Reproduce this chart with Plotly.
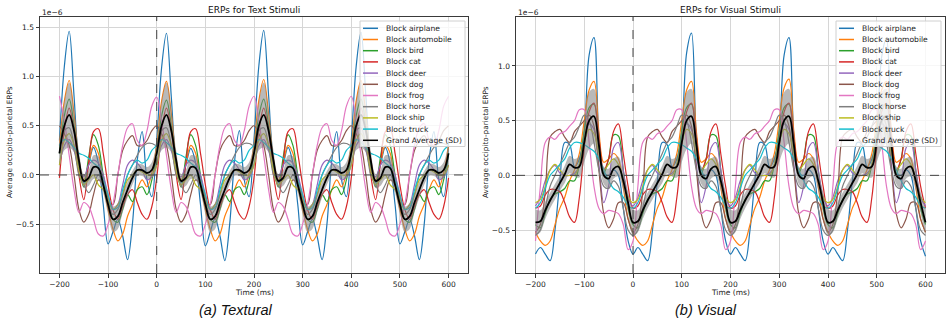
import plotly.graph_objects as go
from plotly.subplots import make_subplots

# time axis (ms)
time_ms = list(range(-200, 601, 10))

block_names = ['Block airplane', 'Block automobile', 'Block bird', 'Block cat', 'Block deer',
               'Block dog', 'Block frog', 'Block horse', 'Block ship', 'Block truck']
ga_name = 'Grand Average (SD)'

# ---- ERPs for Text Stimuli (x1e-6) ----
text_airplane = [0.35, 1.10, 1.46, 0.80, 0.12, -0.08, 0.10, 0.28, 0.12, -0.30, -0.70, -0.58, -0.45, -0.62, -0.86, -0.50, 0.15, 0.44, -0.05, -0.22,
                 0.35, 1.09, 1.44, 0.79, 0.12, -0.08, 0.10, 0.27, 0.12, -0.30, -0.72, -0.58, -0.44, -0.62, -0.87, -0.50, 0.14, 0.45, -0.05, -0.22,
                 0.36, 1.11, 1.47, 0.81, 0.13, -0.08, 0.10, 0.28, 0.12, -0.30, -0.71, -0.58, -0.45, -0.63, -0.86, -0.50, 0.15, 0.44, -0.05, -0.22,
                 0.35, 1.10, 1.45, 0.80, 0.12, -0.08, 0.10, 0.28, 0.12, -0.30, -0.70, -0.58, -0.45, -0.62, -0.86, -0.50, 0.15, 0.44, -0.05, -0.22,
                 0.35]
text_automobile = [0.30, 0.75, 0.96, 0.62, 0.15, -0.05, 0.12, 0.30, 0.22, -0.10, -0.35, -0.55, -0.67, -0.60, -0.42, -0.30, -0.15, -0.05, -0.12, 0.02,
                   0.30, 0.75, 0.95, 0.62, 0.15, -0.05, 0.12, 0.30, 0.22, -0.10, -0.35, -0.55, -0.67, -0.60, -0.42, -0.30, -0.15, -0.05, -0.12, 0.02,
                   0.30, 0.76, 0.97, 0.62, 0.15, -0.05, 0.12, 0.30, 0.22, -0.10, -0.35, -0.55, -0.67, -0.60, -0.42, -0.30, -0.15, -0.05, -0.12, 0.02,
                   0.30, 0.75, 0.96, 0.62, 0.15, -0.05, 0.12, 0.30, 0.22, -0.10, -0.35, -0.55, -0.67, -0.60, -0.42, -0.30, -0.15, -0.05, -0.12, 0.02,
                   0.30]
text_bird = [0.22, 0.60, 0.77, 0.50, 0.10, -0.12, 0.18, 0.41, 0.30, 0.00, -0.25, -0.45, -0.48, -0.35, -0.20, -0.27, -0.15, -0.12, -0.20, -0.05,
             0.22, 0.60, 0.76, 0.50, 0.10, -0.12, 0.18, 0.41, 0.30, 0.00, -0.25, -0.45, -0.48, -0.35, -0.20, -0.27, -0.15, -0.12, -0.20, -0.05,
             0.22, 0.60, 0.77, 0.50, 0.10, -0.12, 0.18, 0.41, 0.30, 0.00, -0.25, -0.45, -0.48, -0.35, -0.20, -0.27, -0.15, -0.12, -0.20, -0.05,
             0.22, 0.60, 0.77, 0.50, 0.10, -0.12, 0.18, 0.41, 0.30, 0.00, -0.25, -0.45, -0.48, -0.35, -0.20, -0.27, -0.15, -0.12, -0.20, -0.05,
             0.22]
text_cat = [-0.03, 0.45, 0.68, 0.45, 0.00, -0.25, 0.12, 0.44, 0.47, 0.22, -0.10, -0.35, -0.45, -0.32, -0.20, -0.15, -0.28, -0.40, -0.45, -0.32,
            -0.03, 0.45, 0.68, 0.45, 0.00, -0.25, 0.12, 0.44, 0.47, 0.22, -0.10, -0.35, -0.45, -0.32, -0.20, -0.15, -0.28, -0.40, -0.45, -0.32,
            -0.03, 0.45, 0.68, 0.45, 0.00, -0.25, 0.12, 0.44, 0.47, 0.22, -0.10, -0.35, -0.45, -0.32, -0.20, -0.15, -0.28, -0.40, -0.45, -0.32,
            -0.03, 0.45, 0.68, 0.45, 0.00, -0.25, 0.12, 0.44, 0.47, 0.22, -0.10, -0.35, -0.45, -0.32, -0.20, -0.15, -0.28, -0.40, -0.45, -0.32,
            -0.03]
text_deer = [0.10, 0.30, 0.36, 0.25, 0.05, -0.02, 0.10, 0.15, 0.12, 0.00, -0.20, -0.35, -0.30, -0.10, 0.10, 0.15, 0.12, 0.05, -0.05, -0.02,
             0.10, 0.30, 0.36, 0.25, 0.05, -0.02, 0.10, 0.15, 0.12, 0.00, -0.20, -0.35, -0.30, -0.10, 0.10, 0.15, 0.12, 0.05, -0.05, -0.02,
             0.10, 0.30, 0.36, 0.25, 0.05, -0.02, 0.10, 0.15, 0.12, 0.00, -0.20, -0.35, -0.30, -0.10, 0.10, 0.15, 0.12, 0.05, -0.05, -0.02,
             0.10, 0.30, 0.36, 0.25, 0.05, -0.02, 0.10, 0.15, 0.12, 0.00, -0.20, -0.35, -0.30, -0.10, 0.10, 0.15, 0.12, 0.05, -0.05, -0.02,
             0.10]
text_dog = [0.50, 0.42, 0.30, 0.00, -0.35, -0.48, -0.40, -0.20, -0.05, -0.10, -0.28, -0.30, 0.00, 0.25, 0.35, 0.40, 0.30, 0.30, 0.35, 0.45,
            0.50, 0.42, 0.30, 0.00, -0.35, -0.48, -0.40, -0.20, -0.05, -0.10, -0.28, -0.30, 0.00, 0.25, 0.35, 0.40, 0.30, 0.30, 0.35, 0.45,
            0.50, 0.42, 0.30, 0.00, -0.35, -0.48, -0.40, -0.20, -0.05, -0.10, -0.28, -0.30, 0.00, 0.25, 0.35, 0.40, 0.30, 0.30, 0.35, 0.45,
            0.50, 0.42, 0.30, 0.00, -0.35, -0.48, -0.40, -0.20, -0.05, -0.10, -0.28, -0.30, 0.00, 0.25, 0.35, 0.40, 0.30, 0.30, 0.35, 0.45,
            0.50]
text_frog = [0.80, 0.55, 0.20, -0.15, -0.38, -0.28, -0.32, -0.45, -0.60, -0.62, -0.50, -0.30, 0.00, 0.30, 0.48, 0.52, 0.35, 0.30, 0.45, 0.70,
             0.79, 0.55, 0.20, -0.15, -0.38, -0.28, -0.32, -0.45, -0.60, -0.62, -0.50, -0.30, 0.00, 0.30, 0.48, 0.52, 0.35, 0.30, 0.45, 0.70,
             0.80, 0.55, 0.20, -0.15, -0.38, -0.28, -0.32, -0.45, -0.60, -0.62, -0.50, -0.30, 0.00, 0.30, 0.48, 0.52, 0.35, 0.30, 0.45, 0.70,
             0.80, 0.55, 0.20, -0.15, -0.38, -0.28, -0.32, -0.45, -0.60, -0.62, -0.50, -0.30, 0.00, 0.30, 0.48, 0.52, 0.35, 0.30, 0.45, 0.70,
             0.80]
text_horse = [0.30, 0.45, 0.48, 0.30, 0.00, -0.10, -0.18, -0.10, 0.00, -0.10, -0.30, -0.40, -0.35, -0.20, 0.00, 0.10, 0.20, 0.28, 0.32, 0.32,
              0.30, 0.45, 0.48, 0.30, 0.00, -0.10, -0.18, -0.10, 0.00, -0.10, -0.30, -0.40, -0.35, -0.20, 0.00, 0.10, 0.20, 0.28, 0.32, 0.32,
              0.30, 0.45, 0.48, 0.30, 0.00, -0.10, -0.18, -0.10, 0.00, -0.10, -0.30, -0.40, -0.35, -0.20, 0.00, 0.10, 0.20, 0.28, 0.32, 0.32,
              0.30, 0.45, 0.48, 0.30, 0.00, -0.10, -0.18, -0.10, 0.00, -0.10, -0.30, -0.40, -0.35, -0.20, 0.00, 0.10, 0.20, 0.28, 0.32, 0.32,
              0.30]
text_ship = [0.10, 0.35, 0.42, 0.30, 0.05, -0.10, -0.05, 0.00, -0.10, -0.15, -0.25, -0.35, -0.30, -0.20, -0.05, 0.00, 0.05, 0.03, 0.00, 0.00,
             0.10, 0.35, 0.42, 0.30, 0.05, -0.10, -0.05, 0.00, -0.10, -0.15, -0.25, -0.35, -0.30, -0.20, -0.05, 0.00, 0.05, 0.03, 0.00, 0.00,
             0.10, 0.35, 0.42, 0.30, 0.05, -0.10, -0.05, 0.00, -0.10, -0.15, -0.25, -0.35, -0.30, -0.20, -0.05, 0.00, 0.05, 0.03, 0.00, 0.00,
             0.10, 0.35, 0.42, 0.30, 0.05, -0.10, -0.05, 0.00, -0.10, -0.15, -0.25, -0.35, -0.30, -0.20, -0.05, 0.00, 0.05, 0.03, 0.00, 0.00,
             0.10]
text_truck = [0.30, 0.36, 0.33, 0.28, 0.22, 0.20, 0.17, 0.12, 0.08, -0.05, -0.20, -0.35, -0.33, -0.15, 0.00, 0.10, 0.15, 0.12, 0.15, 0.25,
              0.30, 0.36, 0.33, 0.28, 0.22, 0.20, 0.17, 0.12, 0.08, -0.05, -0.20, -0.35, -0.33, -0.15, 0.00, 0.10, 0.15, 0.12, 0.15, 0.25,
              0.30, 0.36, 0.33, 0.28, 0.22, 0.20, 0.17, 0.12, 0.08, -0.05, -0.20, -0.35, -0.33, -0.15, 0.00, 0.10, 0.15, 0.12, 0.15, 0.25,
              0.30, 0.36, 0.33, 0.28, 0.22, 0.20, 0.17, 0.12, 0.08, -0.05, -0.20, -0.35, -0.33, -0.15, 0.00, 0.10, 0.15, 0.12, 0.15, 0.25,
              0.30]
text_ga = [0.22, 0.50, 0.61, 0.45, 0.15, -0.06, -0.03, 0.08, 0.07, -0.10, -0.30, -0.45, -0.42, -0.28, -0.15, -0.03, 0.05, 0.05, 0.02, 0.05,
           0.22, 0.50, 0.61, 0.45, 0.15, -0.06, -0.03, 0.08, 0.07, -0.10, -0.30, -0.45, -0.42, -0.28, -0.15, -0.03, 0.05, 0.05, 0.02, 0.05,
           0.22, 0.50, 0.61, 0.45, 0.15, -0.06, -0.03, 0.08, 0.07, -0.10, -0.30, -0.45, -0.42, -0.28, -0.15, -0.03, 0.05, 0.05, 0.02, 0.05,
           0.22, 0.50, 0.61, 0.45, 0.15, -0.06, -0.03, 0.08, 0.07, -0.10, -0.30, -0.45, -0.42, -0.28, -0.15, -0.03, 0.05, 0.05, 0.02, 0.05,
           0.22]
text_sd = [0.12, 0.25, 0.33, 0.22, 0.10, 0.07, 0.08, 0.12, 0.12, 0.08, 0.10, 0.13, 0.13, 0.10, 0.08, 0.07, 0.06, 0.06, 0.06, 0.08,
           0.12, 0.25, 0.33, 0.22, 0.10, 0.07, 0.08, 0.12, 0.12, 0.08, 0.10, 0.13, 0.13, 0.10, 0.08, 0.07, 0.06, 0.06, 0.06, 0.08,
           0.12, 0.25, 0.33, 0.22, 0.10, 0.07, 0.08, 0.12, 0.12, 0.08, 0.10, 0.13, 0.13, 0.10, 0.08, 0.07, 0.06, 0.06, 0.06, 0.08,
           0.12, 0.25, 0.33, 0.22, 0.10, 0.07, 0.08, 0.12, 0.12, 0.08, 0.10, 0.13, 0.13, 0.10, 0.08, 0.07, 0.06, 0.06, 0.06, 0.08,
           0.12]

# ---- ERPs for Visual Stimuli (x1e-6) ----
vis_airplane = [-0.72, -0.66, -0.72, -0.78, -0.50, -0.05, 0.30, 0.28, 0.08, 0.15, 0.40, 1.10, 1.26, 0.35, 0.02, 0.00, 0.05, 0.00, -0.30, -0.60,
                -0.72, -0.66, -0.72, -0.78, -0.50, -0.05, 0.30, 0.28, 0.08, 0.15, 0.40, 1.12, 1.30, 0.35, 0.02, 0.00, 0.05, 0.00, -0.30, -0.60,
                -0.72, -0.66, -0.72, -0.78, -0.50, -0.05, 0.30, 0.28, 0.08, 0.15, 0.40, 1.10, 1.26, 0.35, 0.02, 0.00, 0.05, 0.00, -0.30, -0.60,
                -0.72, -0.66, -0.72, -0.78, -0.50, -0.05, 0.30, 0.28, 0.08, 0.15, 0.40, 1.08, 1.25, 0.35, 0.02, 0.00, 0.05, 0.00, -0.30, -0.60,
                -0.74]
vis_automobile = [-0.52, -0.60, -0.64, -0.60, -0.45, -0.30, -0.20, -0.05, 0.05, 0.20, 0.50, 0.78, 0.86, 0.40, 0.12, 0.15, 0.20, 0.15, -0.10, -0.40,
                  -0.52, -0.60, -0.64, -0.60, -0.45, -0.30, -0.20, -0.05, 0.05, 0.20, 0.50, 0.78, 0.86, 0.40, 0.12, 0.15, 0.20, 0.15, -0.10, -0.40,
                  -0.52, -0.60, -0.64, -0.60, -0.45, -0.30, -0.20, -0.05, 0.05, 0.20, 0.50, 0.80, 0.88, 0.40, 0.12, 0.15, 0.20, 0.15, -0.10, -0.40,
                  -0.52, -0.60, -0.64, -0.60, -0.45, -0.30, -0.20, -0.05, 0.05, 0.20, 0.50, 0.78, 0.86, 0.40, 0.12, 0.15, 0.20, 0.15, -0.10, -0.40,
                  -0.52]
vis_bird = [-0.45, -0.48, -0.35, -0.22, -0.17, -0.15, -0.12, -0.05, -0.05, 0.10, 0.40, 0.62, 0.65, 0.25, 0.02, 0.15, 0.37, 0.36, 0.05, -0.30,
            -0.45, -0.48, -0.35, -0.22, -0.17, -0.15, -0.12, -0.05, -0.05, 0.10, 0.40, 0.62, 0.65, 0.25, 0.02, 0.15, 0.37, 0.36, 0.05, -0.30,
            -0.45, -0.48, -0.35, -0.22, -0.17, -0.15, -0.12, -0.05, -0.05, 0.10, 0.40, 0.62, 0.65, 0.25, 0.02, 0.15, 0.37, 0.36, 0.05, -0.30,
            -0.45, -0.48, -0.35, -0.22, -0.17, -0.15, -0.12, -0.05, -0.05, 0.10, 0.40, 0.62, 0.65, 0.25, 0.02, 0.15, 0.37, 0.36, 0.05, -0.30,
            -0.45]
vis_cat = [-0.30, -0.28, -0.18, -0.13, -0.13, -0.15, -0.25, -0.38, -0.43, -0.20, 0.25, 0.58, 0.66, 0.35, 0.05, 0.15, 0.40, 0.47, 0.20, -0.10,
           -0.30, -0.28, -0.18, -0.13, -0.13, -0.15, -0.25, -0.38, -0.43, -0.20, 0.25, 0.58, 0.66, 0.35, 0.05, 0.15, 0.40, 0.47, 0.20, -0.10,
           -0.30, -0.28, -0.18, -0.13, -0.13, -0.15, -0.25, -0.38, -0.43, -0.20, 0.25, 0.58, 0.66, 0.35, 0.05, 0.15, 0.40, 0.47, 0.20, -0.10,
           -0.30, -0.28, -0.18, -0.13, -0.13, -0.15, -0.25, -0.38, -0.43, -0.20, 0.25, 0.58, 0.66, 0.35, 0.05, 0.15, 0.40, 0.47, 0.20, -0.10,
           -0.30]
vis_deer = [-0.28, -0.20, -0.05, 0.05, 0.09, 0.02, 0.00, 0.00, 0.02, 0.08, 0.30, 0.47, 0.42, 0.10, -0.25, -0.10, 0.25, 0.30, 0.05, -0.20,
            -0.28, -0.20, -0.05, 0.05, 0.09, 0.02, 0.00, 0.00, 0.02, 0.08, 0.30, 0.47, 0.42, 0.10, -0.25, -0.10, 0.25, 0.30, 0.05, -0.20,
            -0.28, -0.20, -0.05, 0.05, 0.09, 0.02, 0.00, 0.00, 0.02, 0.08, 0.30, 0.47, 0.42, 0.10, -0.25, -0.10, 0.25, 0.30, 0.05, -0.20,
            -0.28, -0.20, -0.05, 0.05, 0.09, 0.02, 0.00, 0.00, 0.02, 0.08, 0.30, 0.47, 0.42, 0.10, -0.25, -0.10, 0.25, 0.30, 0.05, -0.20,
            -0.28]
vis_dog = [-0.52, -0.45, -0.15, 0.35, 0.40, 0.42, 0.35, 0.30, 0.40, 0.45, 0.50, 0.55, 0.45, 0.05, -0.35, -0.48, -0.40, -0.25, -0.25, -0.40,
           -0.52, -0.45, -0.15, 0.35, 0.40, 0.42, 0.35, 0.30, 0.40, 0.45, 0.50, 0.55, 0.45, 0.05, -0.35, -0.48, -0.40, -0.25, -0.25, -0.40,
           -0.52, -0.45, -0.15, 0.35, 0.40, 0.42, 0.35, 0.30, 0.40, 0.45, 0.50, 0.55, 0.45, 0.05, -0.35, -0.48, -0.40, -0.25, -0.25, -0.40,
           -0.52, -0.45, -0.15, 0.35, 0.40, 0.42, 0.35, 0.30, 0.40, 0.45, 0.50, 0.55, 0.45, 0.05, -0.35, -0.48, -0.40, -0.25, -0.25, -0.40,
           -0.52]
vis_frog = [-0.60, -0.10, 0.30, 0.35, 0.33, 0.38, 0.40, 0.45, 0.50, 0.60, 0.60, 0.30, -0.10, -0.30, -0.35, -0.32, -0.33, -0.35, -0.45, -0.68,
            -0.60, -0.10, 0.30, 0.35, 0.33, 0.38, 0.40, 0.45, 0.50, 0.60, 0.60, 0.30, -0.10, -0.30, -0.35, -0.32, -0.33, -0.35, -0.45, -0.68,
            -0.60, -0.10, 0.30, 0.35, 0.33, 0.38, 0.40, 0.45, 0.50, 0.60, 0.60, 0.30, -0.10, -0.30, -0.35, -0.32, -0.33, -0.35, -0.45, -0.68,
            -0.60, -0.10, 0.30, 0.35, 0.33, 0.38, 0.40, 0.45, 0.50, 0.60, 0.60, 0.30, -0.10, -0.30, -0.35, -0.32, -0.33, -0.35, -0.45, -0.68,
            -0.60]
vis_horse = [-0.55, -0.50, -0.30, -0.10, 0.00, 0.10, 0.20, 0.30, 0.35, 0.45, 0.55, 0.50, 0.30, 0.05, -0.10, -0.12, -0.05, -0.10, -0.30, -0.50,
             -0.55, -0.50, -0.30, -0.10, 0.00, 0.10, 0.20, 0.30, 0.35, 0.45, 0.55, 0.50, 0.30, 0.05, -0.10, -0.12, -0.05, -0.10, -0.30, -0.50,
             -0.55, -0.50, -0.30, -0.10, 0.00, 0.10, 0.20, 0.30, 0.35, 0.45, 0.55, 0.50, 0.30, 0.05, -0.10, -0.12, -0.05, -0.10, -0.30, -0.50,
             -0.55, -0.50, -0.30, -0.10, 0.00, 0.10, 0.20, 0.30, 0.35, 0.45, 0.55, 0.50, 0.30, 0.05, -0.10, -0.12, -0.05, -0.10, -0.30, -0.50,
             -0.55]
vis_ship = [-0.25, -0.22, -0.10, 0.05, 0.10, 0.05, 0.00, 0.00, 0.00, 0.10, 0.30, 0.42, 0.38, 0.20, 0.05, 0.10, 0.15, 0.10, -0.05, -0.20,
            -0.25, -0.22, -0.10, 0.05, 0.10, 0.05, 0.00, 0.00, 0.00, 0.10, 0.30, 0.42, 0.38, 0.20, 0.05, 0.10, 0.15, 0.10, -0.05, -0.20,
            -0.25, -0.22, -0.10, 0.05, 0.10, 0.05, 0.00, 0.00, 0.00, 0.10, 0.30, 0.42, 0.38, 0.20, 0.05, 0.10, 0.15, 0.10, -0.05, -0.20,
            -0.25, -0.22, -0.10, 0.05, 0.10, 0.05, 0.00, 0.00, 0.00, 0.10, 0.30, 0.42, 0.38, 0.20, 0.05, 0.10, 0.15, 0.10, -0.05, -0.20,
            -0.25]
vis_truck = [-0.30, -0.25, -0.12, 0.00, 0.05, 0.10, 0.15, 0.25, 0.30, 0.30, 0.28, 0.25, 0.22, 0.15, 0.05, -0.05, -0.12, -0.15, -0.20, -0.28,
             -0.30, -0.25, -0.12, 0.00, 0.05, 0.10, 0.15, 0.25, 0.30, 0.30, 0.28, 0.25, 0.22, 0.15, 0.05, -0.05, -0.12, -0.15, -0.20, -0.28,
             -0.30, -0.25, -0.12, 0.00, 0.05, 0.10, 0.15, 0.25, 0.30, 0.30, 0.28, 0.25, 0.22, 0.15, 0.05, -0.05, -0.12, -0.15, -0.20, -0.28,
             -0.30, -0.25, -0.12, 0.00, 0.05, 0.10, 0.15, 0.25, 0.30, 0.30, 0.28, 0.25, 0.22, 0.15, 0.05, -0.05, -0.12, -0.15, -0.20, -0.28,
             -0.30]
vis_ga = [-0.43, -0.42, -0.32, -0.23, -0.15, -0.07, 0.01, 0.10, 0.07, 0.08, 0.30, 0.50, 0.54, 0.28, 0.00, -0.03, 0.06, 0.08, -0.05, -0.25,
          -0.43, -0.42, -0.32, -0.23, -0.15, -0.07, 0.01, 0.10, 0.07, 0.08, 0.30, 0.50, 0.54, 0.28, 0.00, -0.03, 0.06, 0.08, -0.05, -0.25,
          -0.43, -0.42, -0.32, -0.23, -0.15, -0.07, 0.01, 0.10, 0.07, 0.08, 0.30, 0.50, 0.54, 0.28, 0.00, -0.03, 0.06, 0.08, -0.05, -0.25,
          -0.43, -0.42, -0.32, -0.23, -0.15, -0.07, 0.01, 0.10, 0.07, 0.08, 0.30, 0.50, 0.54, 0.28, 0.00, -0.03, 0.06, 0.08, -0.05, -0.25,
          -0.43]
vis_sd = [0.12, 0.10, 0.08, 0.07, 0.07, 0.07, 0.08, 0.08, 0.08, 0.10, 0.18, 0.26, 0.25, 0.14, 0.08, 0.09, 0.09, 0.09, 0.09, 0.10,
          0.12, 0.10, 0.08, 0.07, 0.07, 0.07, 0.08, 0.08, 0.08, 0.10, 0.18, 0.26, 0.25, 0.14, 0.08, 0.09, 0.09, 0.09, 0.09, 0.10,
          0.12, 0.10, 0.08, 0.07, 0.07, 0.07, 0.08, 0.08, 0.08, 0.10, 0.18, 0.26, 0.25, 0.14, 0.08, 0.09, 0.09, 0.09, 0.09, 0.10,
          0.12, 0.10, 0.08, 0.07, 0.07, 0.07, 0.08, 0.08, 0.08, 0.10, 0.18, 0.26, 0.25, 0.14, 0.08, 0.09, 0.09, 0.09, 0.09, 0.10,
          0.12]

text_blocks = [text_airplane, text_automobile, text_bird, text_cat, text_deer,
               text_dog, text_frog, text_horse, text_ship, text_truck]
vis_blocks = [vis_airplane, vis_automobile, vis_bird, vis_cat, vis_deer,
              vis_dog, vis_frog, vis_horse, vis_ship, vis_truck]

colors = ['#1f77b4', '#ff7f0e', '#2ca02c', '#d62728', '#9467bd',
          '#8c564b', '#e377c2', '#7f7f7f', '#bcbd22', '#17becf']

W, H = 952, 330
FONT = 'DejaVu Sans'


def px(x):
    return x / W


def py(y):
    return 1 - y / H


fig = make_subplots(rows=1, cols=2)

panels = [(1, text_blocks, text_ga, text_sd), (2, vis_blocks, vis_ga, vis_sd)]
for col, blocks, ga, sd in panels:
    for name, vals, c in zip(block_names, blocks, colors):
        fig.add_trace(go.Scatter(x=time_ms, y=vals, mode='lines', name=name,
                                 line=dict(color=c, width=1.2, shape='spline', smoothing=1.0),
                                 showlegend=False), row=1, col=col)
    upper = [m + s for m, s in zip(ga, sd)]
    lower = [m - s for m, s in zip(ga, sd)]
    fig.add_trace(go.Scatter(x=time_ms, y=upper, mode='lines',
                             line=dict(width=0, shape='spline', smoothing=1.0),
                             showlegend=False, hoverinfo='skip'), row=1, col=col)
    fig.add_trace(go.Scatter(x=time_ms, y=lower, mode='lines', fill='tonexty',
                             fillcolor='rgba(128,128,128,0.55)',
                             line=dict(width=0, shape='spline', smoothing=1.0),
                             showlegend=False, hoverinfo='skip'), row=1, col=col)
    fig.add_trace(go.Scatter(x=time_ms, y=ga, mode='lines', name=ga_name,
                             line=dict(color='black', width=1.8, shape='spline', smoothing=1.0),
                             showlegend=False), row=1, col=col)

axis_common = dict(showline=True, mirror=True, linecolor='#3a3a3a', linewidth=1,
                   ticks='outside', ticklen=3.5, tickcolor='#3a3a3a', tickwidth=0.8,
                   showgrid=True, gridcolor='#d6d6d6', gridwidth=1, zeroline=False,
                   automargin=False,
                   tickfont=dict(family=FONT, size=7.5, color='#222'))

fig.update_xaxes(axis_common, range=[-240, 640], tickvals=[-200, -100, 0, 100, 200, 300, 400, 500, 600])
fig.update_xaxes(domain=[px(40), px(468)], row=1, col=1)
fig.update_xaxes(domain=[px(516), px(945)], row=1, col=2)
fig.update_yaxes(axis_common, tickformat='.1f', domain=[py(273), py(17)])
fig.update_yaxes(range=[-0.996, 1.605], tickvals=[-0.5, 0, 0.5, 1.0, 1.5], row=1, col=1)
fig.update_yaxes(range=[-0.893, 1.448], tickvals=[-0.5, 0, 0.5, 1.0], row=1, col=2)

shapes = []
annotations = []
for xa, ya in [('x', 'y'), ('x2', 'y2')]:
    shapes.append(dict(type='line', xref=xa, yref=ya + ' domain', x0=0, x1=0, y0=0, y1=1,
                       line=dict(color='#444', width=1, dash='dash'), layer='above'))
    shapes.append(dict(type='line', xref=xa + ' domain', yref=ya, x0=0, x1=1, y0=0, y1=0,
                       line=dict(color='#444', width=1, dash='dash'), layer='above'))

# legends drawn as boxes in each panel
for left in [360, 836]:
    shapes.append(dict(type='rect', xref='paper', yref='paper', x0=px(left), x1=px(left + 105),
                       y0=py(146.5), y1=py(21), fillcolor='rgba(255,255,255,0.8)',
                       line=dict(color='#d0d0d0', width=1), layer='above'))
    entries = list(zip(block_names, colors)) + [(ga_name, 'black')]
    for i, (name, c) in enumerate(entries):
        yy = 28.3 + 11.2 * i
        shapes.append(dict(type='line', xref='paper', yref='paper', x0=px(left + 3), x1=px(left + 18),
                           y0=py(yy), y1=py(yy), line=dict(color=c, width=1.5), layer='above'))
        annotations.append(dict(x=px(left + 24), y=py(yy), xref='paper', yref='paper', text=name,
                                showarrow=False, xanchor='left', yanchor='middle',
                                font=dict(family=FONT, size=7.6, color='#222')))

for cx, x0, title, caption, capx in [(254, 40, 'ERPs for Text Stimuli', '(a) Textural', 236),
                                     (730.5, 516, 'ERPs for Visual Stimuli', '(b) Visual', 705.5)]:
    annotations.append(dict(x=px(cx), y=py(10), xref='paper', yref='paper', text=title,
                            showarrow=False, xanchor='center', yanchor='middle',
                            font=dict(family=FONT, size=9, color='#111')))
    annotations.append(dict(x=px(cx), y=py(292), xref='paper', yref='paper', text='Time (ms)',
                            showarrow=False, xanchor='center', yanchor='middle',
                            font=dict(family=FONT, size=7.5, color='#222')))
    annotations.append(dict(x=px(x0), y=py(12.5), xref='paper', yref='paper', text='1e\u22126',
                            showarrow=False, xanchor='left', yanchor='middle',
                            font=dict(family=FONT, size=7.5, color='#222')))
    annotations.append(dict(x=px(x0 - 31), y=py(142), xref='paper', yref='paper',
                            text='Average occipito-parietal ERPs', textangle=-90, showarrow=False,
                            xanchor='center', yanchor='middle',
                            font=dict(family=FONT, size=7.3, color='#222')))
    annotations.append(dict(x=px(capx), y=py(310), xref='paper', yref='paper',
                            text='<i>' + caption + '</i>', showarrow=False,
                            xanchor='center', yanchor='middle',
                            font=dict(family='Liberation Sans', size=14.5, color='#111')))

fig.update_layout(width=W, height=H, margin=dict(l=0, r=0, t=0, b=0),
                  plot_bgcolor='white', paper_bgcolor='white', showlegend=False,
                  shapes=shapes, annotations=annotations, font=dict(family=FONT))

# remove the default page margin so the figure sits at the window's corner
fig.write_html("out.html", config={'displayModeBar': False},
               post_script="document.body.style.margin='0';document.body.style.padding='0';")
